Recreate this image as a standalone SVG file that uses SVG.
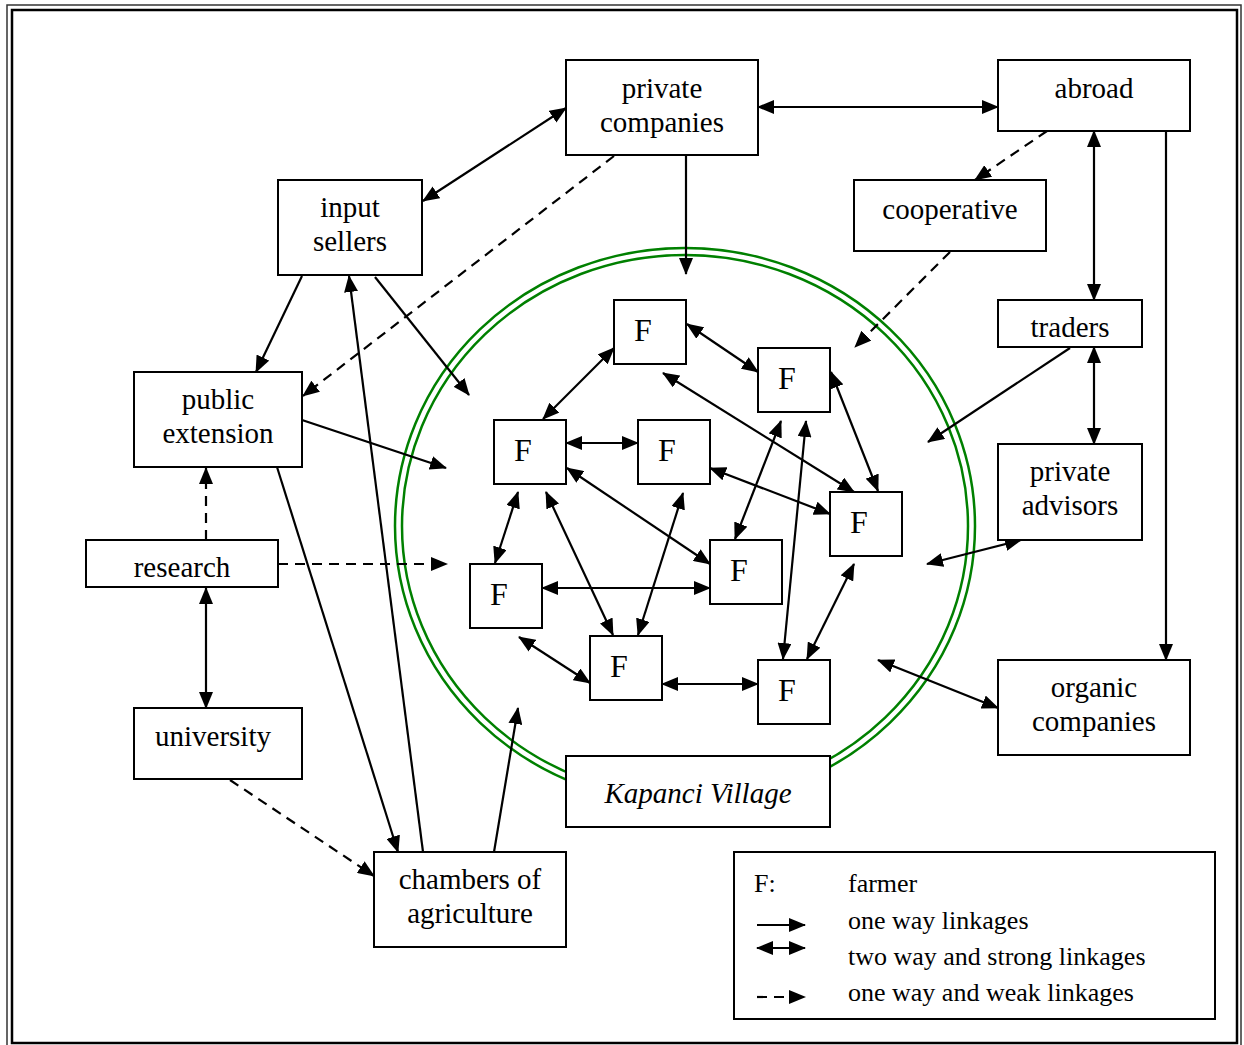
<svg xmlns="http://www.w3.org/2000/svg" width="1244" height="1045" viewBox="0 0 1244 1045">
<defs>
<marker id="ah" markerUnits="userSpaceOnUse" markerWidth="17" markerHeight="14" viewBox="0 0 17 14" refX="16" refY="7" orient="auto-start-reverse">
<path d="M0,0 L17,7 L0,14 z" fill="#000"/>
</marker>
<style>
.box{fill:#fff;stroke:#000;stroke-width:2}
.t{font-family:"Liberation Serif","Times New Roman",serif;font-size:29px;fill:#000;text-anchor:middle}
.f{font-family:"Liberation Serif","Times New Roman",serif;font-size:32px;fill:#000}
.lg{font-family:"Liberation Serif","Times New Roman",serif;font-size:26px;fill:#000}
.c line{stroke:#000;stroke-width:2.2;fill:none}
.one{marker-end:url(#ah)}
.two{marker-start:url(#ah);marker-end:url(#ah)}
.d{stroke-dasharray:10 7}
.ring{fill:none;stroke:#008000;stroke-width:2.5}
</style>
</defs>
<rect x="0" y="0" width="1244" height="1045" fill="#fff"/>
<g id="frame">
<rect x="7" y="5" width="1234" height="1045" fill="none" stroke="#333" stroke-width="1.5"/>
<rect x="12" y="10" width="1225" height="1033" fill="none" stroke="#000" stroke-width="2.5"/>
</g>
<g id="village-ring">
<ellipse class="ring" cx="685" cy="526" rx="290" ry="278"/>
<ellipse class="ring" cx="685" cy="526" rx="283" ry="271"/>
</g>
<g id="connectors" class="c">
<line class="two" x1="566" y1="108" x2="423" y2="201"/>
<line class="two" x1="758" y1="107" x2="998" y2="107"/>
<line class="one" x1="686" y1="155" x2="686" y2="274"/>
<line class="one d" x1="614" y1="156" x2="303" y2="396"/>
<line class="one d" x1="1047" y1="131" x2="975" y2="180"/>
<line class="one d" x1="950" y1="252" x2="855" y2="347"/>
<line class="two" x1="1094" y1="131" x2="1094" y2="300"/>
<line class="one" x1="1166" y1="131" x2="1166" y2="660"/>
<line class="two" x1="1094" y1="347" x2="1094" y2="444"/>
<line class="one" x1="1070" y1="348" x2="928" y2="442"/>
<line class="two" x1="1021" y1="540" x2="927" y2="564"/>
<line class="two" x1="878" y1="660" x2="998" y2="708"/>
<line class="one" x1="302" y1="276" x2="256" y2="372"/>
<line class="one" x1="375" y1="277" x2="469" y2="395"/>
<line class="one" x1="423" y1="852" x2="349" y2="276"/>
<line class="one" x1="277" y1="467" x2="398" y2="852"/>
<line class="one" x1="302" y1="420" x2="446" y2="468"/>
<line class="one d" x1="206" y1="540" x2="206" y2="468"/>
<line class="one d" x1="278" y1="564" x2="447" y2="564"/>
<line class="two" x1="206" y1="588" x2="206" y2="708"/>
<line class="one d" x1="230" y1="780" x2="374" y2="876"/>
<line class="one" x1="494" y1="852" x2="518" y2="708"/>
<line class="two" x1="614" y1="348" x2="543" y2="419"/>
<line class="two" x1="687" y1="324" x2="758" y2="372"/>
<line class="two" x1="663" y1="373" x2="854" y2="492"/>
<line class="two" x1="831" y1="372" x2="878" y2="491"/>
<line class="two" x1="566" y1="443" x2="638" y2="443"/>
<line class="two" x1="710" y1="468" x2="830" y2="514"/>
<line class="two" x1="781" y1="421" x2="735" y2="539"/>
<line class="two" x1="806" y1="421" x2="783" y2="659"/>
<line class="two" x1="567" y1="468" x2="710" y2="564"/>
<line class="two" x1="518" y1="492" x2="495" y2="563"/>
<line class="two" x1="546" y1="492" x2="613" y2="635"/>
<line class="two" x1="683" y1="493" x2="638" y2="635"/>
<line class="two" x1="542" y1="588" x2="710" y2="588"/>
<line class="two" x1="519" y1="637" x2="590" y2="683"/>
<line class="two" x1="662" y1="684" x2="758" y2="684"/>
<line class="two" x1="807" y1="659" x2="854" y2="564"/>
</g>
<g id="private-companies"><rect class="box" x="566" y="60" width="192" height="95"/><text class="t" x="662" y="98">private</text><text class="t" x="662" y="132">companies</text></g>
<g id="abroad"><rect class="box" x="998" y="60" width="192" height="71"/><text class="t" x="1094" y="98">abroad</text></g>
<g id="input-sellers"><rect class="box" x="278" y="180" width="144" height="95"/><text class="t" x="350" y="217">input</text><text class="t" x="350" y="251">sellers</text></g>
<g id="cooperative"><rect class="box" x="854" y="180" width="192" height="71"/><text class="t" x="950" y="219">cooperative</text></g>
<g id="traders"><rect class="box" x="998" y="300" width="144" height="47"/><text class="t" x="1070" y="337">traders</text></g>
<g id="public-extension"><rect class="box" x="134" y="372" width="168" height="95"/><text class="t" x="218" y="409">public</text><text class="t" x="218" y="443">extension</text></g>
<g id="research"><rect class="box" x="86" y="540" width="192" height="47"/><text class="t" x="182" y="577">research</text></g>
<g id="private-advisors"><rect class="box" x="998" y="444" width="144" height="96"/><text class="t" x="1070" y="481">private</text><text class="t" x="1070" y="515">advisors</text></g>
<g id="university"><rect class="box" x="134" y="708" width="168" height="71"/><text class="t" x="213" y="746">university</text></g>
<g id="organic-companies"><rect class="box" x="998" y="660" width="192" height="95"/><text class="t" x="1094" y="697">organic</text><text class="t" x="1094" y="731">companies</text></g>
<g id="chambers-of-agriculture"><rect class="box" x="374" y="852" width="192" height="95"/><text class="t" x="470" y="889">chambers of</text><text class="t" x="470" y="923">agriculture</text></g>
<g id="kapanci-village"><rect class="box" x="566" y="756" width="264" height="71"/><text class="t" x="698" y="803" font-style="italic">Kapanci Village</text></g>
<g id="farmer-1"><rect class="box" x="614" y="300" width="72" height="64"/><text class="f" x="634" y="341">F</text></g>
<g id="farmer-2"><rect class="box" x="758" y="348" width="72" height="64"/><text class="f" x="778" y="389">F</text></g>
<g id="farmer-3"><rect class="box" x="494" y="420" width="72" height="64"/><text class="f" x="514" y="461">F</text></g>
<g id="farmer-4"><rect class="box" x="638" y="420" width="72" height="64"/><text class="f" x="658" y="461">F</text></g>
<g id="farmer-5"><rect class="box" x="830" y="492" width="72" height="64"/><text class="f" x="850" y="533">F</text></g>
<g id="farmer-6"><rect class="box" x="710" y="540" width="72" height="64"/><text class="f" x="730" y="581">F</text></g>
<g id="farmer-7"><rect class="box" x="470" y="564" width="72" height="64"/><text class="f" x="490" y="605">F</text></g>
<g id="farmer-8"><rect class="box" x="590" y="636" width="72" height="64"/><text class="f" x="610" y="677">F</text></g>
<g id="farmer-9"><rect class="box" x="758" y="660" width="72" height="64"/><text class="f" x="778" y="701">F</text></g>
<g id="legend">
<rect class="box" x="734" y="852" width="481" height="167"/>
<text class="lg" x="754" y="892">F:</text>
<text class="lg" x="848" y="892">farmer</text>
<g class="c">
<line class="one" x1="757" y1="925" x2="805" y2="925"/>
<line class="two" x1="757" y1="948" x2="805" y2="948"/>
<line class="one d" x1="757" y1="997" x2="805" y2="997"/>
</g>
<text class="lg" x="848" y="929">one way linkages</text>
<text class="lg" x="848" y="965">two way and strong linkages</text>
<text class="lg" x="848" y="1001">one way and weak linkages</text>
</g>
</svg>
